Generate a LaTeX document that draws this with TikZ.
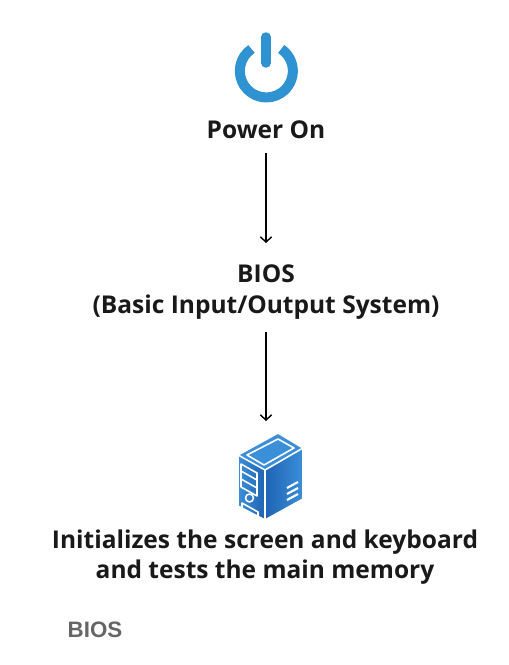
\documentclass[tikz,border=0pt]{standalone}
\usepackage{fontspec}
\usetikzlibrary{arrows.meta}
\setmainfont{Open Sans}
\newfontfamily\captionfont{Liberation Sans}
\definecolor{powerblue}{HTML}{2F93D1}
\definecolor{pcdark}{HTML}{1F63B4}
\definecolor{pclight}{HTML}{3B8FD8}
\definecolor{captiongray}{HTML}{666666}
\tikzset{
  steptext/.style={font=\fontsize{13.95}{17.2}\selectfont\bfseries, align=center, text=black!90, inner sep=0pt},
  flow/.style={-{Straight Barb[length=3pt,width=6.5pt]}, line width=0.8pt, black},
  pcline/.style={white, line width=0.9pt, line join=round},
}
\begin{document}
\begin{tikzpicture}[x=0.02cm, y=-0.02cm]
            \useasboundingbox (0,0) rectangle (509,665);
            % power symbol
            \draw[powerblue, line width=5.7pt] (251.5,49) arc[start angle=-124, end angle=-416, radius=26.5];
            \draw[powerblue, line width=5.4pt, line cap=round] (266,37) -- (266,63);
            % text steps
            \node[steptext] (poweron) at (266,130) {Power On};
            \node[steptext] (bios) at (266,292) {BIOS\\(Basic Input/Output System)};
            \node[steptext] (init) at (265,557) {Initializes the screen and keyboard\\and tests the main memory};
            \node[font=\captionfont\fontsize{12.7}{14}\selectfont\bfseries, text=captiongray, inner sep=0pt] (caption) at (95,630) {BIOS};
            % computer
            \coordinate (biosin) at (266,243);
            \coordinate (pcicon) at (266,421);
            \fill[pclight] (278,433) -- (303,448) -- (265,470) -- (238,455) -- cycle;
            \shade[left color=pclight, right color=pcdark] (238,455) -- (265,470) -- (265,520) -- (238,506) -- cycle;
            \shade[left color=pcdark, right color=pclight] (265,470) -- (303,448) -- (303,499) -- (265,520) -- cycle;
            \draw[pcline] (278,433) -- (303,448) -- (265,470) -- (238,455) -- cycle;
            \draw[pcline] (278,439) -- (294,448) -- (264,465) -- (247,455) -- cycle;
            \draw[pcline] (238,455) -- (238,506) -- (265,520) -- (303,499) -- (303,448);
            \draw[pcline] (265,470) -- (265,520);
            \draw[pcline] (241,464) -- (257,473) -- (257,496) -- (241,487) -- cycle;
            \draw[pcline] (241,471) -- (257,480) (241,479) -- (257,488);
            \draw[pcline] (249.5,498) circle (4);
            \draw[pcline] (242,508) -- (242,503) -- (258,512) -- (258,516);
            \draw[pcline, line width=1.2pt] (287,488) -- (298,482) (287,494) -- (298,488) (287,500) -- (298,494);
            % arrows
            \draw[flow] ([yshift=-0.28cm]poweron.south) -- (biosin);
            \draw[flow] ([yshift=-0.26cm]bios.south) -- (pcicon);
\end{tikzpicture}
\end{document}
